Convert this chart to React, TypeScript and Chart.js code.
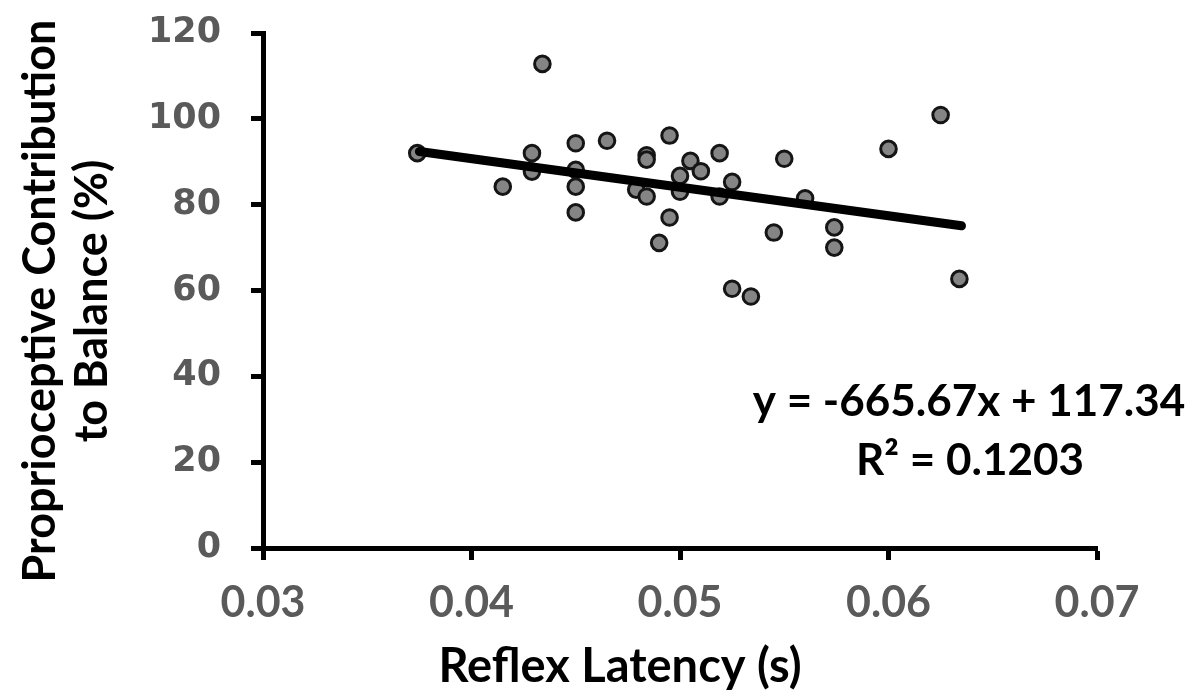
import React, { useEffect, useRef } from "react";
import { Chart, registerables } from "chart.js";

Chart.register(...registerables);

// Reflex latency (s) for each subject
const latency = [
  0.0374, 0.0415, 0.0429, 0.0429, 0.0434, 0.045, 0.045, 0.045, 0.045, 0.0465,
  0.0479, 0.0484, 0.0484, 0.0484, 0.049, 0.0495, 0.0495, 0.05, 0.05, 0.0505,
  0.051, 0.0519, 0.0519, 0.0525, 0.0525, 0.0534, 0.0545, 0.055, 0.056, 0.0574,
  0.0574, 0.06, 0.0625, 0.0634,
];
// Proprioceptive contribution to balance (%)
const contribution = [
  92.0, 84.2, 92.0, 87.7, 112.8, 94.3, 88.1, 84.2, 78.2, 94.9,
  83.5, 91.5, 90.5, 81.9, 71.1, 96.1, 77.0, 86.7, 83.0, 90.2,
  87.8, 92.0, 81.9, 85.3, 60.4, 58.6, 73.5, 90.7, 81.5, 74.7,
  70.0, 93.0, 100.9, 62.7,
];

// Linear trendline
const slope = -665.67;
const intercept = 117.34;
const trendRange = [0.0375, 0.0635];

const xTicks = [0.03, 0.04, 0.05, 0.06, 0.07];
const yTicks = [0, 20, 40, 60, 80, 100, 120];

const xTitle = "Reflex Latency (s)";
const yTitle = ["Proprioceptive Contribution", "to Balance (%)"];
const equationText = "y = -665.67x + 117.34";
const r2Text = "R\u00B2 = 0.1203";

const textPlugin = {
  id: "textPlugin",
  afterDraw(chart: any) {
    const ctx = chart.ctx as CanvasRenderingContext2D;
    ctx.save();
    ctx.fillStyle = "#000000";
    ctx.textAlign = "center";
    ctx.textBaseline = "middle";
    // regression equation
    ctx.font = "bold 44px Lato";
    ctx.fillText(equationText, 969, 402);
    ctx.fillText(r2Text, 970, 461);
    // x title
    ctx.font = "bold 47px Lato";
    ctx.fillText(xTitle, 620, 667);
    // y title
    ctx.translate(0, 301);
    ctx.rotate(-Math.PI / 2);
    ctx.font = "bold 45px Lato";
    ctx.fillText(yTitle[0], 0, 40);
    ctx.fillText(yTitle[1], 0, 92);
    ctx.restore();
  },
};

export default function App() {
  const canvasRef = useRef<HTMLCanvasElement | null>(null);

  useEffect(() => {
    if (!canvasRef.current) return;
    const points = latency.map((x, i) => ({ x, y: contribution[i] }));
    const trend = trendRange.map((x) => ({ x, y: slope * x + intercept }));

    const chart = new Chart(canvasRef.current, {
      type: "scatter",
      data: {
        datasets: [
          {
            type: "line",
            label: "Trend",
            data: trend,
            borderColor: "#000000",
            borderWidth: 9,
            borderCapStyle: "round",
            pointRadius: 0,
            fill: false,
            order: 0,
          } as any,
          {
            label: "Subjects",
            data: points,
            backgroundColor: "#858585",
            borderColor: "#151515",
            borderWidth: 3,
            pointRadius: 7.8,
            order: 1,
          },
        ],
      },
      options: {
        animation: false,
        responsive: false,
        layout: { padding: { top: 33, right: 89, left: 0, bottom: 0 } },
        plugins: {
          legend: { display: false },
          tooltip: { enabled: false },
        },
        scales: {
          x: {
            type: "linear",
            min: xTicks[0],
            max: xTicks[xTicks.length - 1],
            afterFit: (scale: any) => {
              scale.height = 152;
              scale.paddingLeft = 0;
              scale.paddingRight = 0;
            },
            afterBuildTicks: (scale: any) => {
              scale.ticks = xTicks.map((v) => ({ value: v }));
            },
            ticks: {
              color: "#5a5a5a",
              font: { family: "Lato", weight: "bold", size: 43 },
              padding: 17,
              callback: (v: any) => Number(v).toFixed(2),
            },
            grid: {
              drawOnChartArea: false,
              drawTicks: true,
              tickLength: 12,
              tickWidth: 5,
              tickColor: "#000000",
            },
            border: { display: true, color: "#000000", width: 5 },
          },
          y: {
            type: "linear",
            min: yTicks[0],
            max: yTicks[yTicks.length - 1],
            afterFit: (scale: any) => {
              scale.width = 263;
              scale.paddingTop = 0;
              scale.paddingBottom = 0;
            },
            afterBuildTicks: (scale: any) => {
              scale.ticks = yTicks.map((v) => ({ value: v }));
            },
            ticks: {
              color: "#5a5a5a",
              font: { family: "DejaVu Sans", weight: "bold", size: 35 },
              padding: 30,
              callback: (v: any) => String(v),
            },
            grid: {
              drawOnChartArea: false,
              drawTicks: true,
              tickLength: 12,
              tickWidth: 5,
              tickColor: "#000000",
            },
            border: { display: true, color: "#000000", width: 5 },
          },
        },
      },
      plugins: [textPlugin],
    });
    return () => chart.destroy();
  }, []);

  return (
    <div style={{ position: "absolute", left: 0, top: 0, width: 1186, height: 700, background: "#ffffff" }}>
      <canvas ref={canvasRef} width={1186} height={700} style={{ display: "block" }} />
    </div>
  );
}
